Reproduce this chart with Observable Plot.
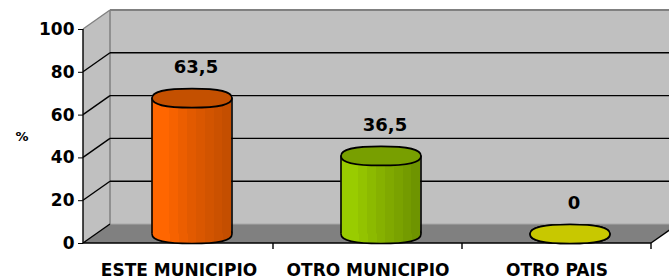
<!DOCTYPE html>
<html><head><meta charset="utf-8">
<script src="https://cdn.jsdelivr.net/npm/d3@7"></script>
<script src="https://cdn.jsdelivr.net/npm/@observablehq/plot@0.6"></script>
<style>body{margin:0;background:#fff}</style>
</head><body><div id="chart"></div>
<script>
// ---- data ----
const categories = ["ESTE MUNICIPIO", "OTRO MUNICIPIO", "OTRO PAIS"];
const values = [63.5, 36.5, 0];
const yTicks = [0, 20, 40, 60, 80, 100];
const yLabel = "%";

// ---- styles ----
const bodyPalettes = [
  ["#ff6600", "#ff6600", "#f66200", "#ec5e00", "#e25a00", "#da5700", "#d25400", "#cb5100", "#c44e00"],
  ["#99cc00", "#99cc00", "#93c300", "#8cba00", "#86b100", "#80a900", "#7aa200", "#749b00", "#6e9400"],
  ["#c8c800", "#c8c800", "#c4c400", "#c0c000", "#bcbc00", "#b8b800", "#b4b400", "#b0b000", "#acac00"]
];
const topColors = ["#c45000", "#789f00", "#c8c800"];
const DX = 27, DY = -19;      // 3-D depth offset (px)
const CX = 13, CY = -9.5;     // cylinder axis offset (px)
const RX = 40, RY = 9.5;      // cylinder radii (px)

const data = categories.map((c, i) => ({cat: c, val: values[i], label: String(values[i]).replace(".", ",")}));

// ellipse symbol (slightly boxy)
const ellipse = {
  draw(ctx, size) {
    const r = Math.sqrt(size / Math.PI), rx = r, ry = r * RY / RX, k = 0.7;
    ctx.moveTo(rx, 0);
    ctx.bezierCurveTo(rx, k * ry, k * rx, ry, 0, ry);
    ctx.bezierCurveTo(-k * rx, ry, -rx, k * ry, -rx, 0);
    ctx.bezierCurveTo(-rx, -k * ry, -k * rx, -ry, 0, -ry);
    ctx.bezierCurveTo(k * rx, -ry, rx, -k * ry, rx, 0);
    ctx.closePath();
  }
};

// walls, floor, gridlines drawn from Plot's scales
function scene(index, scales, chans, dim) {
  const x = scales.x, y = scales.y;
  const xl = dim.marginLeft, xr = dim.width - dim.marginRight;
  const yb = y(0), yt = y(d3.max(yTicks));
  const g = d3.create("svg:g");
  const defs = g.append("defs");
  bodyPalettes.forEach((stops, i) => {
    const lg = defs.append("linearGradient").attr("id", "cyl" + i)
      .attr("x1", 0).attr("x2", 1).attr("y1", 0).attr("y2", 0);
    stops.forEach((c, j) => {
      lg.append("stop").attr("offset", j / stops.length).attr("stop-color", c);
      lg.append("stop").attr("offset", (j + 1) / stops.length).attr("stop-color", c);
    });
  });
  const pts = a => a.map(p => p.join(",")).join(" ");
  const line = (x1, y1, x2, y2, stroke, w) =>
    g.append("line").attr("x1", x1).attr("y1", y1).attr("x2", x2).attr("y2", y2)
      .attr("stroke", stroke).attr("stroke-width", w);
  // side wall
  g.append("polygon").attr("points", pts([[xl, yb], [xl, yt], [xl + DX, yt + DY], [xl + DX, yb + DY]]))
    .attr("fill", "#c0c0c0");
  // back wall
  g.append("rect").attr("x", xl + DX).attr("y", yt + DY).attr("width", xr - xl).attr("height", yb - yt)
    .attr("fill", "#c0c0c0");
  // floor
  g.append("polygon").attr("points", pts([[xl, yb], [xr, yb], [xr + DX, yb + DY], [xl + DX, yb + DY]]))
    .attr("fill", "#808080");
  line(xl + DX, yb + DY, xr + DX, yb + DY, "#a8a8a8", 1.2);
  // back wall left edge
  line(xl + DX, yt + DY, xl + DX, yb + DY, "#808080", 1.5);
  // gridlines + diagonals
  for (const t of yTicks) {
    const yy = y(t);
    const top = t === d3.max(yTicks);
    if (t !== 0) line(xl + DX, yy + DY, xr + DX + 5, yy + DY, top ? "#808080" : "#000", top ? 2 : 1.4);
    line(xl, yy, xl + DX, yy + DY, top ? "#808080" : "#000", 1.4);
  }
  // front bottom edge and right edge
  line(xl, yb, xr, yb, "#000", 1.6);
  line(xr, yb, xr + DX, yb + DY, "#000", 1.4);
  // category boundary ticks
  categories.forEach((c, i) => { if (i > 0) line(x(c), yb, x(c), yb + 6, "#000", 1.4); });
  line(xr, yb, xr, yb + 6, "#000", 1.4);
  // y axis line
  line(xl, yt, xl, yb, "#000", 1.4);
  return g.node();
}

const W = 669, H = 279, mL = 83, mR = 18, mT = 29, mB = 36;
const band = (W - mL - mR) / categories.length;
const inset = (band - 2 * RX) / 2;

const plot = Plot.plot({
  width: W, height: H,
  marginLeft: mL, marginRight: mR, marginTop: mT, marginBottom: mB,
  style: {fontFamily: "DejaVu Sans", fontWeight: "bold", fontSize: "17px", color: "#000", background: "#fff"},
  x: {type: "band", domain: categories, padding: 0, tickSize: 0, tickPadding: 20, label: null},
  y: {domain: [0, 100], ticks: yTicks, tickSize: 5, tickPadding: 4, label: null},
  marks: [
    scene,
    ...data.flatMap((d, i) => [
      Plot.dot([d], {x: "cat", y: () => 0, r: RX, symbol: ellipse, fill: `url(#cyl${i})`,
        stroke: "#000", strokeWidth: 1.6, dx: CX, dy: CY}),
      Plot.barY([d], {x: "cat", y: "val", fill: `url(#cyl${i})`,
        insetLeft: inset, insetRight: inset, dx: CX, dy: CY})
    ]),
    ...data.flatMap((d, i) => [
      Plot.ruleX([d], {x: "cat", y1: () => 0, y2: "val", stroke: "#000", strokeWidth: 1.6, dx: CX - RX, dy: CY}),
      Plot.ruleX([d], {x: "cat", y1: () => 0, y2: "val", stroke: "#000", strokeWidth: 1.6, dx: CX + RX, dy: CY}),
      Plot.dot([d], {x: "cat", y: "val", r: RX, symbol: ellipse, fill: topColors[i],
        stroke: "#000", strokeWidth: 1.6, dx: CX, dy: CY})
    ]),
    Plot.text(data, {x: "cat", y: "val", text: "label", dx: 17, dy: -40, fontSize: 18, fontWeight: "bold"}),
    Plot.text([yLabel], {frameAnchor: "left", dx: -68, fontSize: 13, fontWeight: "bold"})
  ]
});
document.getElementById("chart").appendChild(plot);
</script>
</body></html>
